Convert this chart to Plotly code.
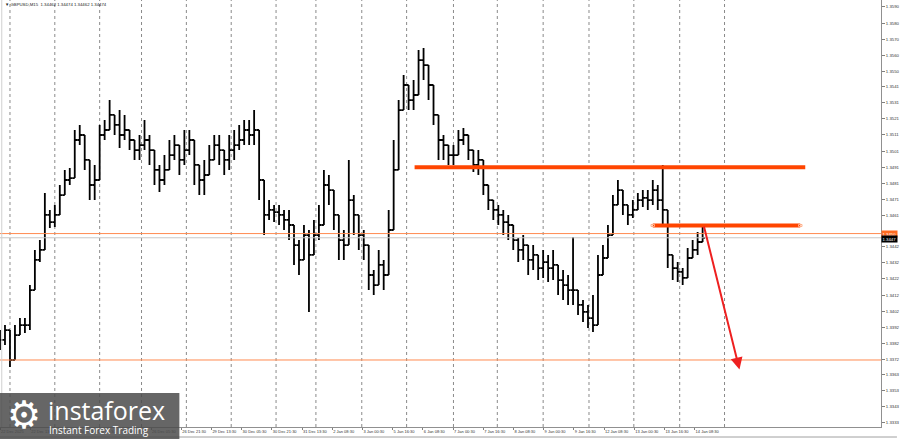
import numpy as np
import plotly.graph_objects as go

# ---------------- data ----------------
SYMBOL_TITLE = "▼ GBPUSD,M15  1.34462 1.34474 1.34462 1.34474"

# aggregated candles (each ~10.5 M15 bars), close / high / low
closes = [1.33843, 1.33904, 1.33719, 1.33873, 1.33935, 1.33935, 1.34151, 1.34337, 1.34399, 1.34615,
          1.34571, 1.34615, 1.34738, 1.34831, 1.34843, 1.35078, 1.35109, 1.34955, 1.34800, 1.34831,
          1.35109, 1.35140, 1.35233, 1.35171, 1.35109, 1.35140, 1.35078, 1.35016, 1.35047, 1.35078,
          1.35016, 1.34893, 1.34831, 1.34893, 1.34985, 1.35047, 1.34955, 1.35016, 1.35078, 1.34924,
          1.34831, 1.34862, 1.34955, 1.35047, 1.35016, 1.34955, 1.35016, 1.35047, 1.35078, 1.35140,
          1.35109, 1.35140, 1.34831, 1.34615, 1.34646, 1.34633, 1.34615, 1.34584, 1.34553, 1.34429,
          1.34337, 1.34491, 1.34368, 1.34491, 1.34553, 1.34800, 1.34769, 1.34615, 1.34460, 1.34429,
          1.34707, 1.34615, 1.34491, 1.34429, 1.34244, 1.34182, 1.34306, 1.34244, 1.34522, 1.34893,
          1.35263, 1.35418, 1.35325, 1.35356, 1.35572, 1.35541, 1.35418, 1.35233, 1.35078, 1.35047,
          1.34985, 1.34985, 1.35078, 1.35109, 1.35016, 1.34924, 1.34955, 1.34800, 1.34707, 1.34646,
          1.34615, 1.34571, 1.34553, 1.34460, 1.34399, 1.34429, 1.34337, 1.34368, 1.34287, 1.34324,
          1.34287, 1.34306, 1.34213, 1.34182, 1.34151, 1.34151, 1.34059, 1.34016, 1.33978, 1.33935,
          1.34244, 1.34349, 1.34491, 1.34677, 1.34769, 1.34677, 1.34615, 1.34646, 1.34707, 1.34720,
          1.34707, 1.34769, 1.34707, 1.34646, 1.34368, 1.34287, 1.34263, 1.34226, 1.34349, 1.34399,
          1.34448, 1.34474]
highs = [1.33904, 1.33935, 1.33873, 1.33935, 1.33978, 1.33978, 1.34182, 1.34399, 1.34460, 1.34751,
         1.34646, 1.34677, 1.34800, 1.34893, 1.34905, 1.35140, 1.35171, 1.35078, 1.34862, 1.34924,
         1.35171, 1.35202, 1.35325, 1.35233, 1.35263, 1.35233, 1.35140, 1.35078, 1.35109, 1.35202,
         1.35109, 1.35016, 1.34924, 1.34985, 1.35078, 1.35109, 1.35047, 1.35140, 1.35140, 1.35016,
         1.34924, 1.34955, 1.35047, 1.35109, 1.35109, 1.35016, 1.35109, 1.35140, 1.35171, 1.35202,
         1.35202, 1.35263, 1.35016, 1.34707, 1.34707, 1.34677, 1.34677, 1.34646, 1.34646, 1.34553,
         1.34460, 1.34553, 1.34522, 1.34584, 1.34677, 1.34893, 1.34862, 1.34707, 1.34553, 1.34522,
         1.34955, 1.34738, 1.34584, 1.34522, 1.34337, 1.34275, 1.34399, 1.34337, 1.34646, 1.35078,
         1.35325, 1.35480, 1.35418, 1.35449, 1.35634, 1.35646, 1.35511, 1.35325, 1.35171, 1.35109,
         1.35047, 1.35047, 1.35140, 1.35152, 1.35078, 1.35016, 1.35016, 1.34955, 1.34800, 1.34707,
         1.34677, 1.34646, 1.34615, 1.34522, 1.34473, 1.34491, 1.34429, 1.34429, 1.34368, 1.34399,
         1.34368, 1.34399, 1.34306, 1.34275, 1.34244, 1.34479, 1.34151, 1.34090, 1.34059, 1.34121,
         1.34368, 1.34429, 1.34553, 1.34738, 1.34831, 1.34738, 1.34677, 1.34707, 1.34751, 1.34769,
         1.34769, 1.34831, 1.34800, 1.34924, 1.34522, 1.34349, 1.34324, 1.34287, 1.34411, 1.34460,
         1.34510, 1.34559]
lows = [1.33781, 1.33812, 1.33676, 1.33812, 1.33892, 1.33886, 1.33904, 1.34275, 1.34324, 1.34522,
        1.34534, 1.34540, 1.34677, 1.34769, 1.34800, 1.35016, 1.35047, 1.34893, 1.34707, 1.34707,
        1.34955, 1.35078, 1.35140, 1.35109, 1.35029, 1.35078, 1.35016, 1.34955, 1.34955, 1.35016,
        1.34924, 1.34800, 1.34757, 1.34800, 1.34893, 1.34955, 1.34862, 1.34924, 1.34985, 1.34800,
        1.34738, 1.34738, 1.34862, 1.34955, 1.34924, 1.34862, 1.34893, 1.34955, 1.35016, 1.35047,
        1.35047, 1.35047, 1.34707, 1.34491, 1.34584, 1.34571, 1.34553, 1.34522, 1.34460, 1.34306,
        1.34244, 1.34399, 1.34016, 1.34399, 1.34460, 1.34707, 1.34677, 1.34522, 1.34337, 1.34337,
        1.34522, 1.34491, 1.34399, 1.34337, 1.34151, 1.34121, 1.34213, 1.34151, 1.34399, 1.34707,
        1.35016, 1.35356, 1.35263, 1.35263, 1.35449, 1.35449, 1.35325, 1.35171, 1.34955, 1.34955,
        1.34924, 1.34924, 1.35016, 1.35047, 1.34955, 1.34880, 1.34862, 1.34738, 1.34646, 1.34584,
        1.34553, 1.34491, 1.34460, 1.34399, 1.34324, 1.34337, 1.34244, 1.34275, 1.34213, 1.34226,
        1.34201, 1.34213, 1.34121, 1.34090, 1.34059, 1.34059, 1.33997, 1.33954, 1.33917, 1.33892,
        1.34090, 1.34275, 1.34399, 1.34553, 1.34677, 1.34615, 1.34553, 1.34596, 1.34646, 1.34664,
        1.34646, 1.34677, 1.34646, 1.34553, 1.34287, 1.34213, 1.34201, 1.34182, 1.34287, 1.34349,
        1.34368, 1.34460]
first_open = 1.33873

BARS_PER_CANDLE = 10.56          # M15 bars merged into one drawn bar
BARS_PER_LABEL = 64              # time label every 16 hours

time_labels = ["22 Dec 2025", "22 Dec 13:30", "23 Dec 05:30", "23 Dec 21:30", "24 Dec 13:30",
               "26 Dec 05:30", "26 Dec 21:30", "29 Dec 13:30", "30 Dec 05:30", "30 Dec 21:30",
               "31 Dec 13:30", "2 Jan 08:30", "3 Jan 00:30", "5 Jan 16:30", "6 Jan 08:30",
               "7 Jan 00:30", "7 Jan 16:30", "8 Jan 08:30", "9 Jan 00:30", "9 Jan 16:30",
               "12 Jan 08:30", "13 Jan 00:30", "13 Jan 16:30", "14 Jan 08:30"]

# day separators (bar index)
day_separators = [2.0, 11.0, 20.0, 28.4, 37.4, 46.4, 55.4, 63.4, 72.6, 81.6,
                  91.0, 99.8, 109.0, 118.2, 127.2, 136.4, 145.4]

price_ticks = [1.3590, 1.3580, 1.3570, 1.3560, 1.3550, 1.3541, 1.3531, 1.3521, 1.3511,
               1.3501, 1.3491, 1.3481, 1.3471, 1.3461, 1.3442, 1.3432, 1.3422, 1.3412,
               1.3402, 1.3392, 1.3382, 1.3372, 1.3363, 1.3353, 1.3343, 1.3333]

# drawn levels
resistance_level = 1.3491
resistance_span = (83.2, 161.6)
local_level = 1.3455
local_span = (131.0, 160.6)
hline_upper = 1.3450
hline_lower = 1.33719
bid_price = 1.34474
arrow_start = (141.2, 1.34553)
arrow_end = (148.4, 1.33660)

Y_RANGE = (1.33305, 1.35943)
X_RANGE = (0, 176.8)

# ---------------- figure ----------------
n = len(closes)
idx = list(range(n))
opens = [first_open] + closes[:-1]
hi = np.maximum(np.array(highs), np.maximum(opens, closes))
lo = np.minimum(np.array(lows), np.minimum(opens, closes))

fig = go.Figure()
fig.add_trace(go.Ohlc(
    x=idx, open=opens, high=hi, low=lo, close=closes,
    increasing=dict(line=dict(color="black", width=1.8)),
    decreasing=dict(line=dict(color="black", width=1.8)),
    tickwidth=0.5, showlegend=False, hoverinfo="skip"))

shapes = []
for d in day_separators:
    shapes.append(dict(type="line", xref="x", yref="paper", x0=d, x1=d, y0=0, y1=1,
                       line=dict(color="#8a8a8a", width=1, dash="dot"), layer="below"))
# thin horizontal levels
shapes.append(dict(type="line", xref="paper", yref="y", x0=0, x1=1, y0=bid_price, y1=bid_price,
                   line=dict(color="#c8c8c8", width=1)))
shapes.append(dict(type="line", xref="paper", yref="y", x0=0, x1=1, y0=hline_upper, y1=hline_upper,
                   line=dict(color="#ff8a50", width=1)))
shapes.append(dict(type="line", xref="paper", yref="y", x0=0, x1=1, y0=hline_lower, y1=hline_lower,
                   line=dict(color="#ff8a50", width=1)))
# thick levels
shapes.append(dict(type="line", xref="x", yref="y", x0=resistance_span[0], x1=resistance_span[1],
                   y0=resistance_level, y1=resistance_level, line=dict(color="#ff4500", width=4)))
shapes.append(dict(type="line", xref="x", yref="y", x0=local_span[0], x1=local_span[1],
                   y0=local_level, y1=local_level, line=dict(color="#ff4500", width=4)))
for xe in local_span:
    shapes.append(dict(type="rect", xref="x", yref="y", x0=xe - 0.35, x1=xe + 0.35,
                       y0=local_level - 0.00006, y1=local_level + 0.00006,
                       line=dict(color="#ffb08a", width=1), fillcolor="rgba(0,0,0,0)"))
# frame lines
shapes.append(dict(type="line", xref="paper", yref="paper", x0=0.002, x1=0.002, y0=0, y1=1,
                   line=dict(color="#d0d0d0", width=1)))
shapes.append(dict(type="line", xref="paper", yref="paper", x0=0, x1=900 / 884, y0=-10 / 427, y1=-10 / 427,
                   line=dict(color="#a0a0a0", width=1)))
# logo box
shapes.append(dict(type="rect", xref="paper", yref="paper", x0=0, x1=180 / 884,
                   y0=-12 / 427, y1=34 / 427, fillcolor="rgba(75,75,75,0.85)",
                   line=dict(width=0), layer="above"))

annotations = [
    dict(x=0.003, y=1, xref="paper", yref="paper", xanchor="left", yanchor="top",
         text=SYMBOL_TITLE, showarrow=False, font=dict(size=4.3, color="#222", family="Liberation Sans")),
    dict(x=arrow_end[0], y=arrow_end[1], ax=arrow_start[0], ay=arrow_start[1],
         xref="x", yref="y", axref="x", ayref="y", text="", showarrow=True,
         arrowhead=2, arrowsize=1.2, arrowwidth=2, arrowcolor="#ee2020"),
    dict(x=1.0, y=hline_upper, xref="paper", yref="y", xanchor="left", yanchor="middle",
         text="1.3450", showarrow=False, bgcolor="#ff6a20", borderpad=0.5,
         font=dict(size=4.3, color="white", family="Liberation Sans")),
    dict(x=1.0, y=bid_price - 0.00008, xref="paper", yref="y", xanchor="left", yanchor="middle",
         text="1.3447", showarrow=False, bgcolor="black", borderpad=0.5,
         font=dict(size=4.3, color="white", family="Liberation Sans")),
    dict(x=24 / 884, y=12 / 427, xref="paper", yref="paper", xanchor="center", yanchor="middle",
         text="⚙", showarrow=False, font=dict(size=38, color="white", family="DejaVu Sans")),
    dict(x=46 / 884, y=17 / 427, xref="paper", yref="paper", xanchor="left", yanchor="middle",
         text="instaforex", showarrow=False, font=dict(size=25, color="white", family="Open Sans")),
    dict(x=47 / 884, y=-3 / 427, xref="paper", yref="paper", xanchor="left", yanchor="middle",
         text="Instant Forex Trading", showarrow=False, font=dict(size=10, color="white", family="Open Sans")),
]

label_step = BARS_PER_LABEL / BARS_PER_CANDLE
fig.update_layout(
    width=900, height=439,
    margin=dict(l=0, r=16, t=0, b=12),
    paper_bgcolor="white", plot_bgcolor="white",
    showlegend=False,
    shapes=shapes, annotations=annotations,
    xaxis=dict(range=list(X_RANGE), rangeslider=dict(visible=False), showgrid=False, zeroline=False,
               tickvals=[k * label_step for k in range(len(time_labels))], ticktext=time_labels,
               ticks="outside", ticklen=2, tickcolor="#808080", ticklabelposition="outside right",
               tickangle=0,
               tickfont=dict(size=4, color="#333", family="Liberation Sans"),
               showline=True, linecolor="#909090", linewidth=1),
    yaxis=dict(range=list(Y_RANGE), side="right", showgrid=False, zeroline=False,
               tickvals=price_ticks, ticktext=[f"{v:.4f}" for v in price_ticks],
               ticks="outside", ticklen=3, tickcolor="#808080",
               tickfont=dict(size=4.3, color="#333", family="Liberation Sans"),
               showline=True, linecolor="#909090", linewidth=1),
)

fig.write_html("out.html", config={"displayModeBar": False},
               post_script="document.body.style.margin='0px';")
